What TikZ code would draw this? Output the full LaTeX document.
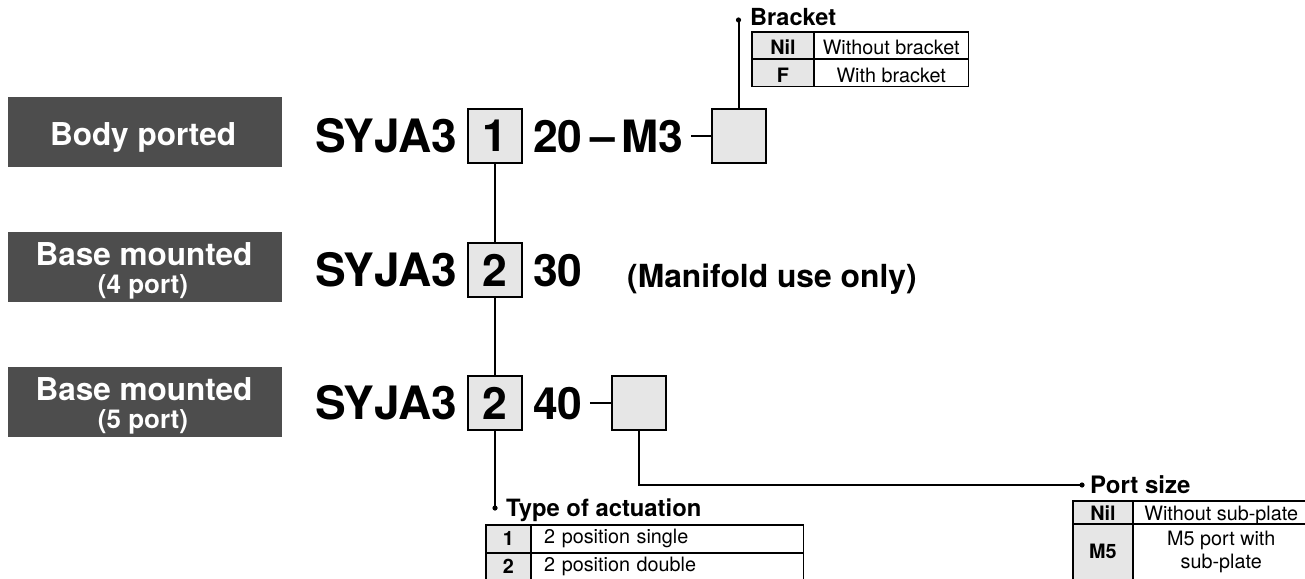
\documentclass[tikz,border=0pt]{standalone}
\usepackage{fontspec}
\setmainfont{TeX Gyre Heros}
\definecolor{hdr}{HTML}{4D4D4D}
\definecolor{lite}{HTML}{E6E6E6}
\tikzset{
 hdrbox/.style={fill=hdr, minimum width=274pt, minimum height=70pt, inner sep=0pt},
 hdrtxt/.style={text=white, inner sep=0pt, anchor=base, font=\bfseries\fontsize{31.5}{34}\selectfont},
 hdrsub/.style={text=white, inner sep=0pt, anchor=base, font=\bfseries\fontsize{26}{30}\selectfont},
 code/.style={inner sep=0pt, anchor=base west, font=\bfseries\fontsize{44.5}{50}\selectfont},
 codebox/.style={draw, line width=2pt, fill=lite, minimum width=54pt, minimum height=54pt, inner sep=0pt, font=\bfseries\fontsize{44.5}{50}\selectfont},
 conn/.style={line width=2pt},
 title/.style={inner sep=0pt, anchor=base west, font=\bfseries\fontsize{23.5}{28}\selectfont},
 keycell/.style={draw, line width=0.8pt, fill=lite, inner sep=0pt, anchor=north west, font=\bfseries\fontsize{19.8}{23}\selectfont},
 txtcell/.style={draw, line width=0.8pt, inner sep=0pt, anchor=north west, font=\fontsize{19.8}{23}\selectfont},
 low/.style={text height=19pt, text depth=0pt},
 outer/.style={line width=1.6pt},
}
\begin{document}
\begin{tikzpicture}[x=1pt,y=-1pt]
\useasboundingbox (0,0) rectangle (1305,578);
\clip (0,0) rectangle (1305,578);
% header boxes
\node[hdrbox] (h1) at (145,132) {};
\node[hdrtxt] (h1a) at (143,145) {Body ported};
\node[hdrbox] (h2) at (145,267) {};
\node[hdrtxt] (h2a) at (144,265) {Base mounted};
\node[hdrsub] (h2b) at (143,293) {(4 port)};
\node[hdrbox] (h3) at (145,402) {};
\node[hdrtxt] (h3a) at (144,400) {Base mounted};
\node[hdrsub] (h3b) at (143,428) {(5 port)};
% row 1
\node[code, font=\bfseries\fontsize{46}{50}\selectfont] (s1) at (315,152) {SYJA3};
\node[codebox] (b1) at (495,136) {1};
\node[code] (n20) at (533,152) {20};
\node[code] (d1) at (590,151.5) {–};
\node[code] (m3) at (621,152) {M3};
\node[codebox] (bb) at (738.5,136) {};
\coordinate (m3e) at ([xshift=8pt]m3.east);
\draw[conn] (m3e |- bb.west) -- (bb.west);
% row 2
\node[code, font=\bfseries\fontsize{46}{50}\selectfont] (s2) at (315,286) {SYJA3};
\node[codebox] (b2) at (495,270) {2};
\node[code] (n30) at (533,286) {30};
\node[code, font=\bfseries\fontsize{31.8}{34}\selectfont] (mf) at (627,287) {(Manifold use only)};
% row 3
\node[code, font=\bfseries\fontsize{46}{50}\selectfont] (s3) at (315,419) {SYJA3};
\node[codebox] (b3) at (495,403) {2};
\node[code] (n40) at (533,419) {40};
\node[codebox] (pb) at (639,403) {};
\coordinate (n40e) at ([xshift=7pt]n40.east);
\draw[conn] (n40e |- pb.west) -- (pb.west);
% connectors
\coordinate (tdot) at (495,508);
\coordinate (bdot) at (738.5,20);
\coordinate (pdot) at (1082,485);
\draw[conn] (b1.south) -- (b2.north) (b2.south) -- (b3.north) (b3.south) -- (tdot);
\draw[conn] (bb.north) -- (bdot);
\draw[conn] (pb.south) |- (pdot);
\fill (tdot) circle (2.6pt) (bdot) circle (2.6pt) (pdot) circle (2.6pt);
% titles
\node[title] (bt) at (750,26) {Bracket};
\node[title, font=\bfseries\fontsize{23.8}{28}\selectfont] (tt) at (506,516) {Type of actuation};
\node[title, font=\bfseries\fontsize{24}{28}\selectfont] (pt) at (1090,493) {Port size};
% bracket table
\node[keycell, low, minimum width=61pt, minimum height=26pt] (bk1) at (752,32) {Nil};
\node[txtcell, low, minimum width=154pt, minimum height=26pt] (bv1) at (bk1.north east) {Without bracket};
\node[keycell, low, minimum width=61pt, minimum height=27pt] (bk2) at (bk1.south west) {F};
\node[txtcell, low, minimum width=154pt, minimum height=27pt] (bv2) at (bk2.north east) {With bracket};
\draw[outer] (bk1.north west) rectangle (bv2.south east);
% type table
\node[keycell, minimum width=44pt, minimum height=27pt] (tk1) at (486,525) {1};
\node[txtcell, text width=246pt, inner xsep=13pt, align=left, minimum height=27pt] (tv1) at (tk1.north east) {2 position single};
\node[keycell, minimum width=44pt, minimum height=27pt] (tk2) at (tk1.south west) {2};
\node[txtcell, text width=246pt, inner xsep=13pt, align=left, minimum height=27pt] (tv2) at (tk2.north east) {2 position double};
\draw[outer] (tk1.north west) rectangle (tv2.south east);
% port table
\node[keycell, low, text height=17pt, minimum width=59pt, minimum height=22pt] (pk1) at (1073,501) {Nil};
\node[txtcell, low, text height=17pt, minimum width=176pt, minimum height=22pt] (pv1) at (pk1.north east) {Without sub-plate};
\node[keycell, minimum width=59pt, minimum height=55pt] (pk2) at (pk1.south west) {M5};
\node[txtcell, minimum width=176pt, minimum height=55pt, align=center] (pv2) at (pk2.north east) {M5 port with\\sub-plate};
\draw[outer] (pk1.north west) rectangle (pv2.south east);
\end{tikzpicture}
\end{document}
